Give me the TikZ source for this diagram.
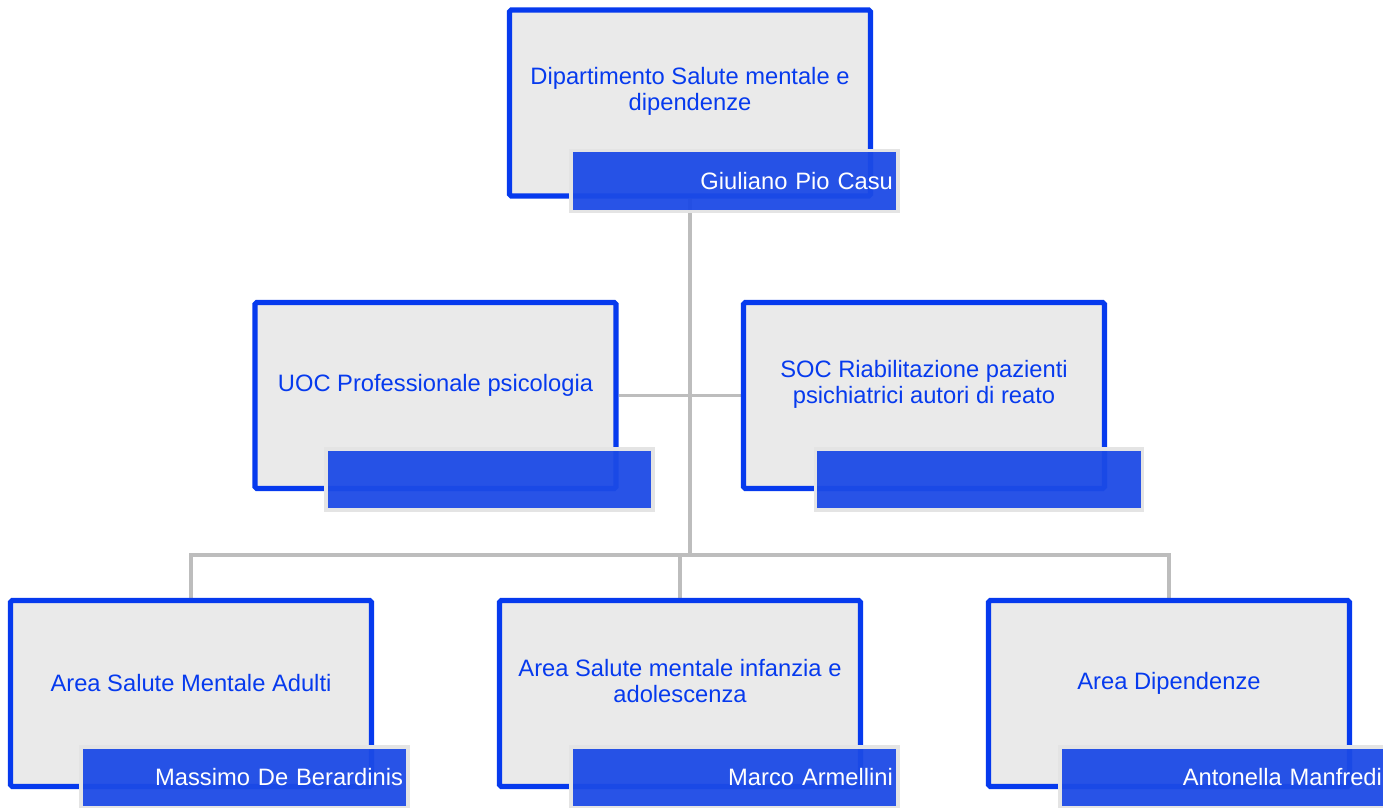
\documentclass[tikz,border=0pt]{standalone}
\usepackage{fontspec}
\setmainfont{Liberation Sans}
\usetikzlibrary{positioning,backgrounds}
\definecolor{unitblue}{HTML}{063AEE}
\definecolor{unitfill}{HTML}{EAEAEA}
\definecolor{barblue}{HTML}{1C4AE6}
\definecolor{barrim}{HTML}{E4E4E4}
\definecolor{linkgray}{HTML}{BDBDBD}
\tikzset{
	unit/.style={draw=unitblue, fill=unitfill, line width=2.9pt, rounded corners=1pt, minimum width=7.22cm, minimum height=3.72cm},
	unitlabel/.style={text=unitblue, align=center, font=\fontsize{13.5}{14.7}\selectfont},
	namebar/.style={draw=barrim, fill=barblue, fill opacity=0.95, text opacity=1, line width=2.2pt, minimum width=6.54cm, minimum height=1.22cm, text width=6.34cm, inner xsep=0.1cm, align=right, text=white, font=\fontsize{13.5}{14.7}\selectfont},
	link/.style={draw=linkgray, line width=2.2pt}
}
\begin{document}
\begin{tikzpicture}[x=0.02cm, y=-0.02cm]
	\useasboundingbox (0,0) rectangle (1383,808);
	\clip (0,0) rectangle (1383,808);
	% units: name/box centre/label centre/text
	\foreach \n/\bx/\by/\ly/\txt in {
		top/690/103/91/{Dipartimento Salute mentale e\\dipendenze},
		uoc/435.5/395.5/385/{UOC Professionale psicologia},
		soc/924/395.5/384/{SOC Riabilitazione pazienti\\psichiatrici autori di reato},
		aone/191/693.5/683/{Area Salute Mentale Adulti},
		atwo/680/693.5/681/{Area Salute mentale infanzia e\\adolescenza},
		athree/1169/693.5/683/{Area Dipendenze}} {
		\node[unit] (\n) at (\bx,\by) {};
		\node[unitlabel] (\n-label) at (\bx,\ly) {\txt};
	}
	% name bars
	\foreach \n/\bx/\by/\who in {
		top/734.5/181/{Giuliano Pio Casu},
		uoc/489.5/479.5/{},
		soc/979/479.5/{},
		aone/244.5/777.5/{Massimo De Berardinis},
		atwo/734.5/777.5/{Marco Armellini},
		athree/1223.5/777.5/{Antonella Manfredi}} {
		\node[namebar] (\n-bar) at (\bx,\by) {\who};
	}
	% connectors
	\begin{scope}[on background layer]
		\coordinate (hub) at (690,555);
		\draw[link] (top.south) -- (hub);
		\draw[link] (uoc.east) -- (soc.west);
		\draw[link] (aone.north) |- (hub) -| (athree.north);
		\draw[link] (hub) -| (atwo.north);
	\end{scope}
\end{tikzpicture}
\end{document}
